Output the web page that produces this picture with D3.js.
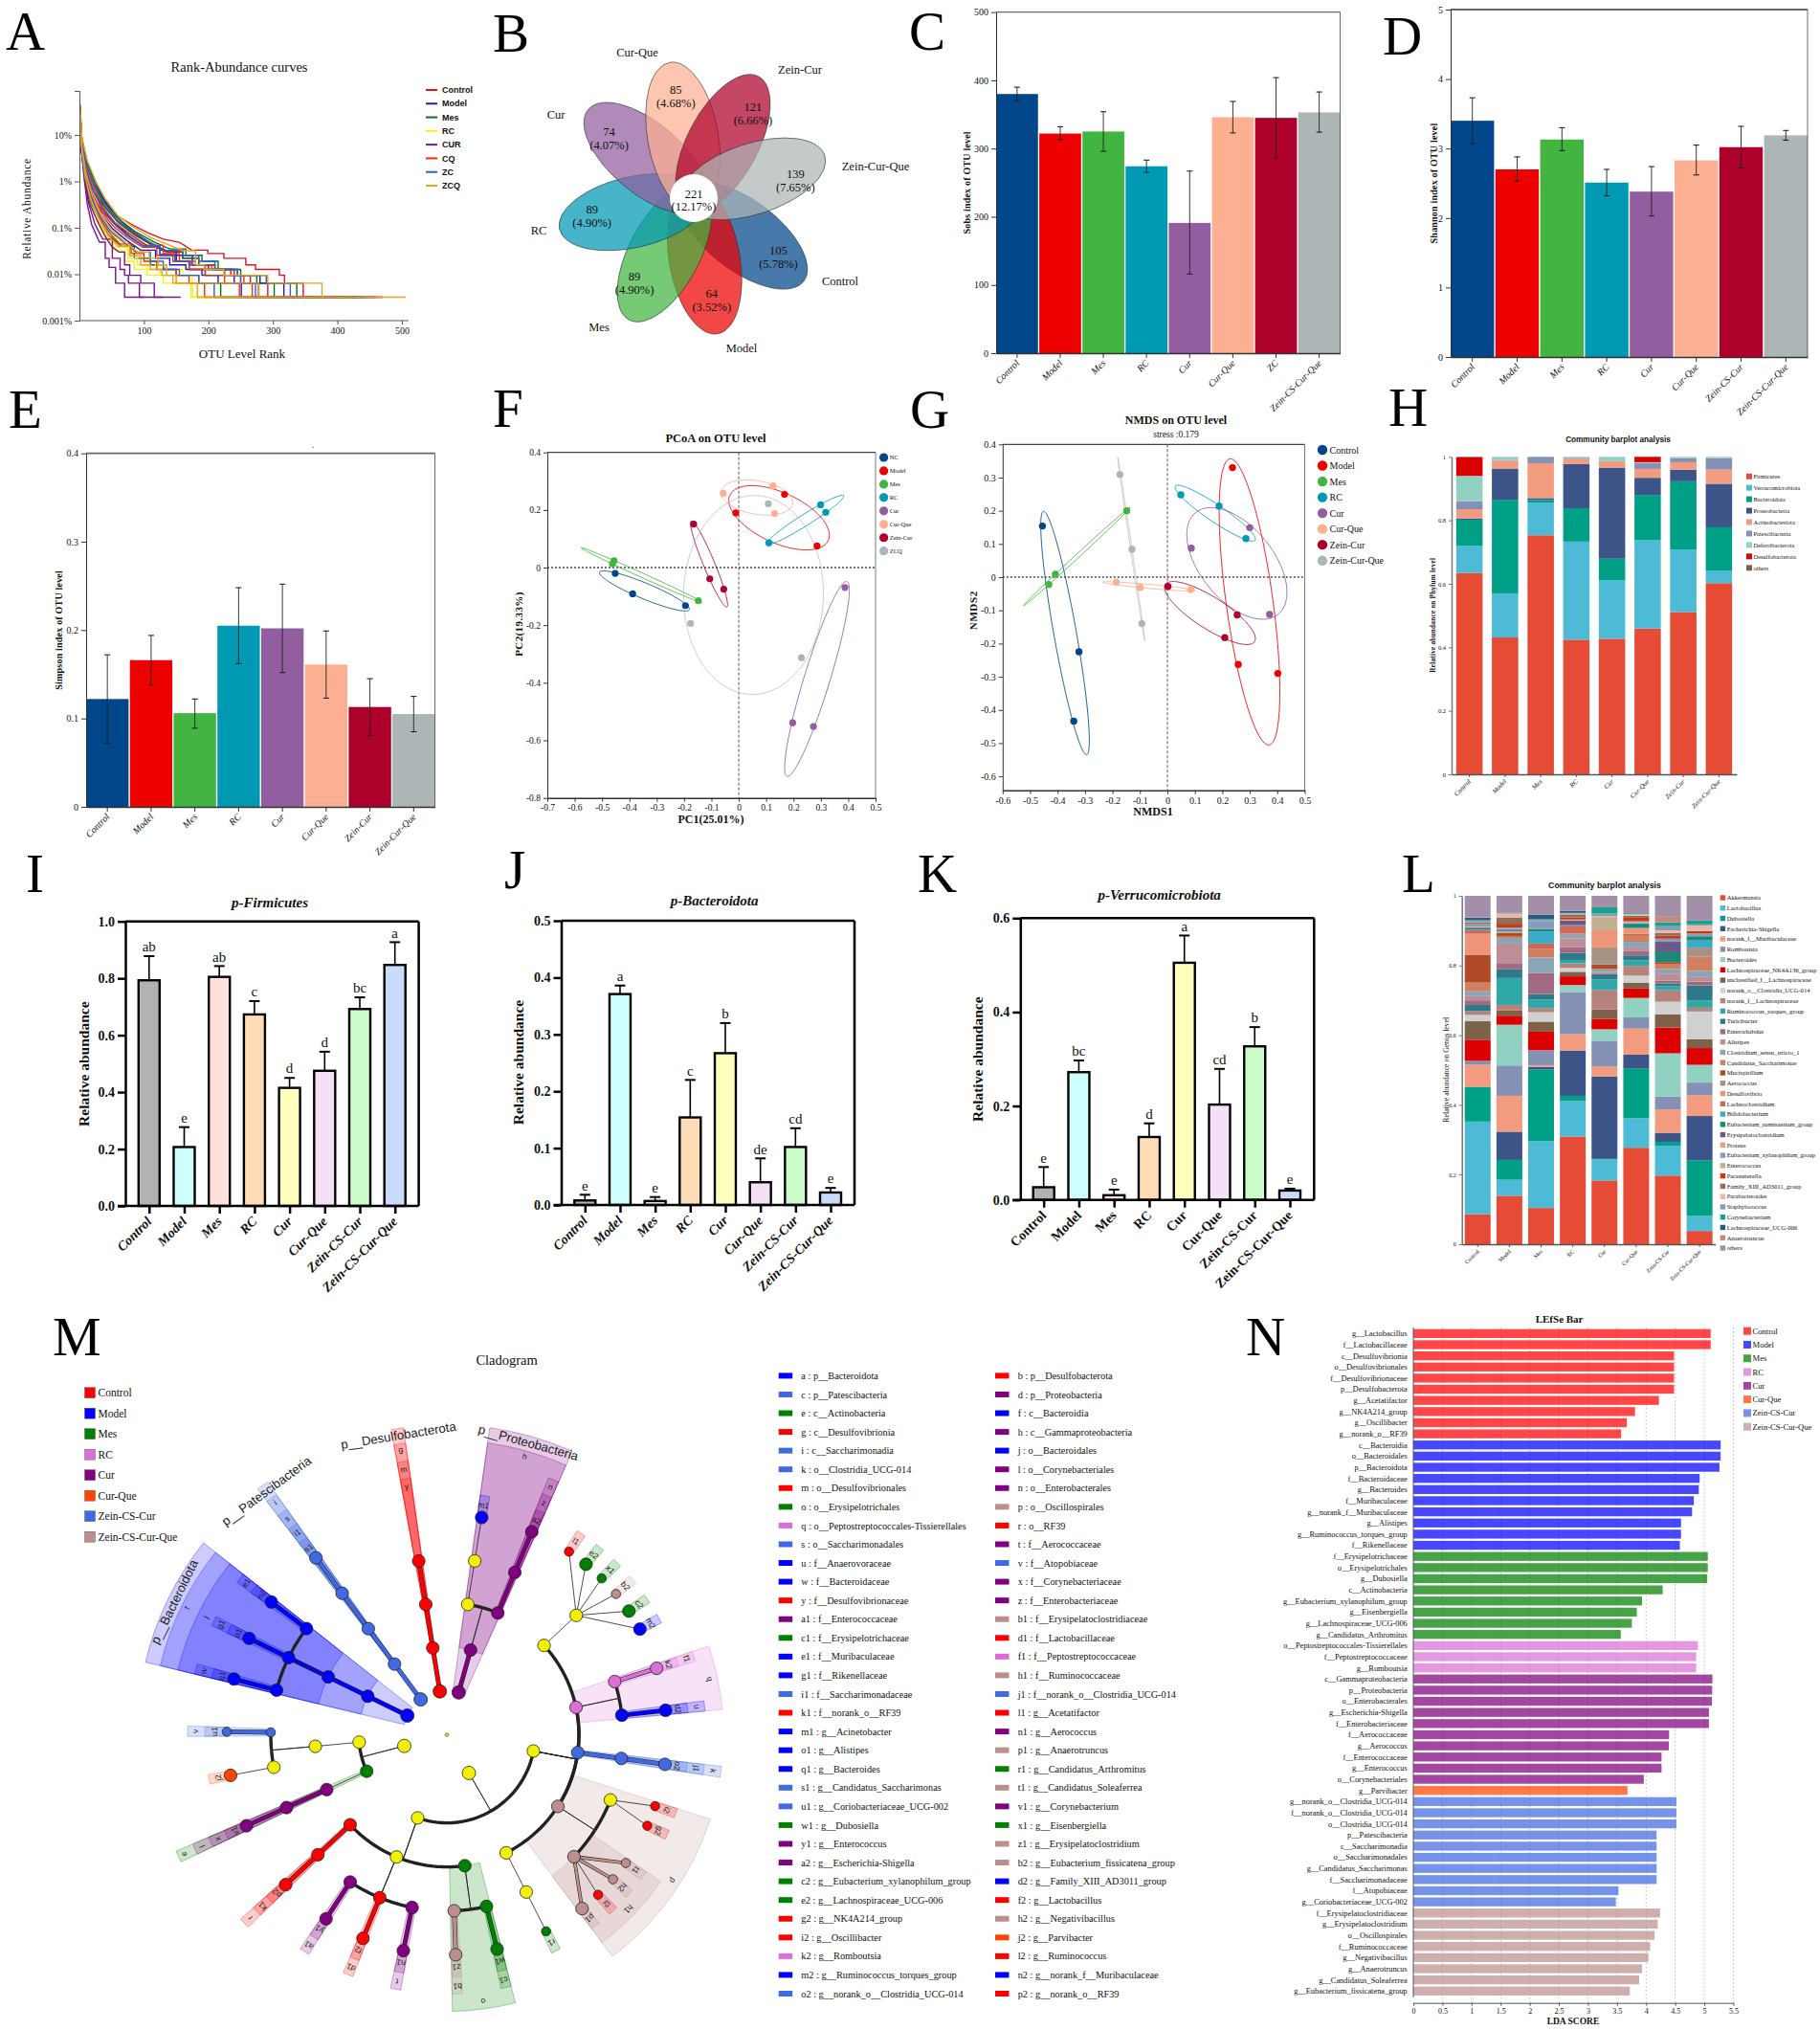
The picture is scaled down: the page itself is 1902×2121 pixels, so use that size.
<!DOCTYPE html>
<html><head><meta charset="utf-8">
<style>html,body{margin:0;padding:0;background:#fff}svg{display:block}</style>
<script src="https://cdn.jsdelivr.net/npm/d3@7/dist/d3.min.js"></script>
</head><body><svg id="fig" width="1902" height="2121"></svg>
<script>
// ===== DATA =====
const groupsShort = ['Control','Model','Mes','RC','Cur','Cur-Que','Zein-CS-Cur','Zein-CS-Cur-Que'];
const lancet = ['#00468b','#ed0000','#42b540','#0099b4','#925e9f','#fdaf91','#ad002a','#adb6b6'];
// A rank abundance: [rank, percent]
const rankGroups = ['Control','Model','Mes','RC','CUR','CQ','ZC','ZCQ'];
const rankColors = ['#e0141e','#1c1cb0','#0a6e1e','#f6f01e','#7a1688','#f0300e','#2f5fd2','#e8a31e'];
const rankControl = [
 [[1,45],[4,6.5],[12,2.5],[27,.84],[36,.41],[56,.19],[81,.117],[105,.079],[130,.057],[155,.049],[174,.033],[199,.028],[224,.022],[258,.0159],[273,.0127],[310,.0095],[318,.0064],[347,.0032],[470,.0032]],
 [[1,30],[3,8],[10,1.6],[22,.6],[40,.27],[60,.14],[85,.075],[110,.045],[135,.03],[160,.022],[185,.0159],[210,.0127],[240,.0095],[265,.0064],[292,.0032],[470,.0032]],
 [[1,25],[3,6],[9,1.3],[20,.5],[36,.22],[55,.12],[80,.07],[105,.04],[125,.027],[150,.019],[170,.0159],[195,.0127],[225,.0095],[250,.0064],[278,.0032],[420,.0032]]];
const rankModel = [
 [[1,38],[3,9],[12,2.6],[25,.95],[38,.42],[58,.17],[80,.09],[105,.05],[130,.032],[150,.0255],[175,.0159],[200,.0127],[235,.0095],[280,.0064],[317,.0032],[460,.0032]],
 [[1,32],[3,7],[10,1.8],[22,.6],[36,.27],[55,.12],[78,.065],[100,.04],[125,.0255],[150,.019],[170,.0127],[195,.0095],[240,.0064],[278,.0032],[410,.0032]],
 [[1,28],[3,6],[9,1.4],[20,.45],[33,.2],[50,.1],[72,.055],[95,.033],[118,.022],[140,.0159],[165,.0127],[190,.0095],[215,.0064],[251,.0032],[360,.0032]]];
const rankMes = [
 [[1,35],[3,8],[11,2.1],[24,.75],[38,.3],[60,.13],[85,.07],[110,.045],[135,.032],[160,.022],[185,.0159],[210,.0127],[245,.0095],[275,.0064],[302,.0032],[430,.0032]],
 [[1,42],[3,10],[12,2.4],[26,.8],[40,.33],[62,.15],[88,.08],[115,.05],[140,.035],[165,.0255],[190,.019],[215,.0127],[250,.0095],[290,.0064],[337,.0032],[440,.0032]],
 [[1,20],[3,5],[8,1],[18,.35],[30,.16],[45,.07],[65,.04],[85,.022],[110,.0159],[130,.0127],[150,.0095],[185,.0064],[219,.0032],[320,.0032]]];
const rankRC = [
 [[1,30],[3,7],[9,1.2],[18,.4],[30,.15],[42,.07],[58,.038],[75,.022],[90,.0159],[105,.0127],[125,.0095],[150,.0064],[173,.0032],[290,.0032]],
 [[1,25],[3,6],[8,1],[16,.35],[27,.14],[40,.06],[55,.032],[70,.019],[85,.0127],[105,.0095],[130,.0064],[175,.0032],[270,.0032]],
 [[1,33],[3,7.5],[10,1.4],[20,.5],[32,.2],[46,.09],[62,.05],[80,.03],[100,.019],[118,.0159],[135,.0127],[160,.0095],[175,.0064],[183,.0032],[310,.0032]]];
const rankCUR = [
 [[1,28],[2,7],[8,1],[12,.33],[19,.117],[31,.049],[40,.022],[46,.014],[56,.0064],[70,.0032],[100,.0032]],
 [[1,32],[3,5],[9,.9],[14,.35],[24,.12],[36,.057],[51,.022],[63,.0127],[70,.0095],[76,.0064],[93,.0032],[130,.0032]],
 [[1,25],[3,4.5],[10,.8],[16,.33],[28,.14],[39,.07],[50,.04],[61,.03],[70,.0159],[78,.0095],[95,.0064],[116,.0032],[157,.0032]]];
const rankCQ = [
 [[1,26],[3,6],[9,1.3],[18,.45],[30,.18],[46,.08],[62,.045],[80,.028],[100,.019],[120,.0127],[150,.0095],[170,.0064],[194,.0032],[320,.0032]],
 [[1,30],[3,7],[10,1.6],[20,.55],[33,.23],[52,.11],[75,.06],[98,.038],[120,.0255],[145,.019],[170,.0127],[195,.0095],[225,.0064],[248,.0032],[380,.0032]],
 [[1,36],[3,8],[11,1.9],[23,.7],[36,.28],[55,.13],[80,.07],[105,.042],[130,.028],[155,.019],[180,.0159],[205,.0127],[235,.0095],[255,.0064],[268,.0032],[400,.0032]]];
const rankZC = [
 [[1,34],[3,8],[11,2.2],[24,.8],[38,.34],[58,.15],[84,.08],[108,.05],[135,.032],[160,.0255],[185,.019],[210,.0127],[245,.0095],[290,.0064],[327,.0032],[450,.0032]],
 [[1,30],[3,7],[10,1.7],[22,.6],[35,.26],[54,.12],[76,.065],[100,.04],[125,.0255],[148,.019],[172,.0159],[195,.0127],[225,.0095],[250,.0064],[273,.0032],[390,.0032]],
 [[1,24],[3,5.5],[9,1.2],[19,.42],[32,.18],[48,.085],[68,.05],[88,.03],[110,.019],[130,.0127],[155,.0095],[185,.0064],[209,.0032],[330,.0032]]];
const rankZCQ = [
 [[1,28],[3,6.5],[10,1.5],[20,.5],[33,.2],[50,.09],[70,.05],[90,.03],[108,.022],[122,.0159],[135,.0095],[145,.0064],[278,.0032],[420,.0032]],
 [[1,26],[3,6],[9,1.2],[18,.4],[30,.16],[44,.07],[60,.04],[78,.025],[95,.0159],[110,.0127],[128,.0095],[150,.0064],[183,.0032],[380,.0032]],
 [[1,40],[3,10],[12,2.8],[26,.95],[40,.42],[60,.18],[85,.1],[110,.062],[135,.045],[160,.032],[180,.0159],[194,.0127],[224,.0095],[292,.0064],[376,.0032],[506,.0032]]];
const rankAll = [rankControl,rankModel,rankMes,rankRC,rankCUR,rankCQ,rankZC,rankZCQ];
// B venn
const vennNames = ['Cur-Que','Zein-Cur','Zein-Cur-Que','Control','Model','Mes','RC','Cur'];
const vennCounts = [85,121,139,105,64,89,89,74];
const vennPercents = ['4.68%','6.66%','7.65%','5.78%','3.52%','4.90%','4.90%','4.07%'];
const vennColors = ['#fdaf91','#ad002a','#adb6b6','#00468b','#ed0000','#42b540','#0099b4','#925e9f'];
const vennPetalAngles = [-10,28,72,127,170,208,257,310];
const vennLabelX = [666,836,915,878,775,626,563,581];
const vennLabelY = [55,73,174,294,364,342,241,120];
// C D E
const sobsLabels = ['Control','Model','Mes','RC','Cur','Cur-Que','ZC','Zein-CS-Cur-Que'];
const sobsValues = [380,322,325,274,191,346,345,353];
const sobsLow = [370,313,296,265,116,323,286,324];
const sobsHigh = [390,332,354,283,267,369,404,383];
const shannonLabels = ['Control','Model','Mes','RC','Cur','Cur-Que','Zein-CS-Cur','Zein-CS-Cur-Que'];
const shannonValues = [3.4,2.7,3.13,2.51,2.38,2.83,3.02,3.19];
const shannonLow = [3.07,2.53,2.97,2.32,2.03,2.62,2.72,3.12];
const shannonHigh = [3.73,2.88,3.30,2.70,2.74,3.05,3.32,3.26];
const simpsonLabels = ['Control','Model','Mes','RC','Cur','Cur-Que','Zein-Cur','Zein-Cur-Que'];
const simpsonValues = [.122,.166,.106,.205,.202,.161,.113,.105];
const simpsonLow = [.072,.138,.089,.162,.152,.123,.081,.085];
const simpsonHigh = [.172,.194,.122,.248,.252,.199,.145,.125];
// F PCoA
const pcoaNames = ['NC','Model','Mes','RC','Cur','Cur-Que','Zein-Cur','ZCQ'];
const pcoaNC = [[-.452,-.02],[-.388,-.091],[-.195,-.132]];
const pcoaModel = [[.167,.254],[-.011,.19],[.286,.075]];
const pcoaMes = [[-.456,.024],[-.462,.013],[-.148,-.115]];
const pcoaRC = [[.299,.218],[.318,.192],[.11,.086]];
const pcoaCur = [[.388,-.069],[.197,-.539],[.273,-.552]];
const pcoaCQ = [[-.057,.258],[.125,.284],[.131,.188]];
const pcoaZC = [[-.165,.151],[-.106,-.039],[-.055,-.075]];
const pcoaZCQ = [[.108,.222],[-.176,-.194],[.229,-.313]];
// G NMDS
const nmdsNames = ['Control','Model','Mes','RC','Cur','Cur-Que','Zein-Cur','Zein-Cur-Que'];
const nmdsControl = [[-.455,.154],[-.322,-.225],[-.341,-.434]];
const nmdsModel = [[.237,.33],[.258,-.263],[.402,-.29]];
const nmdsMes = [[-.148,.2],[-.408,.009],[-.432,-.022]];
const nmdsRC = [[.049,.248],[.188,.214],[.286,.116]];
const nmdsCur = [[.3,.149],[.087,.0875],[.372,-.1125]];
const nmdsCQ = [[-.186,-.015],[-.099,-.031],[.085,-.0375]];
const nmdsZC = [[.002,-.028],[.254,-.114],[.209,-.182]];
const nmdsZCQ = [[-.173,.309],[-.129,.084],[-.093,-.14]];
// H phylum
const phylumNames = ['Firmicutes','Verrucomicrobiota','Bacteroidota','Proteobacteria','Actinobacteriota','Patescibacteria','Deferribacterota','Desulfobacterota','others'];
const phylumColors = ['#e64b35','#4dbbd5','#00a087','#3c5488','#f39b7f','#8491b4','#91d1c2','#dc0000','#7e6148'];
const phylumGroups = ['Control','Model','Mes','RC','Cur','Cur-Que','Zein-Cur','Zein-Cur-Que'];
const phylumControl = [.634,.086,.082,.004,.029,.025,.08,.058,.002];
const phylumModel = [.431,.139,.295,.098,.025,.002,.01,0,0];
const phylumMes = [.753,.103,.008,.006,.11,.02,0,0,0];
const phylumRC = [.424,.309,.105,.139,.017,.003,.003,0,0];
const phylumCur = [.427,.185,.067,.287,.02,.001,.013,0,0];
const phylumCQ = [.459,.278,.143,.054,.028,.019,.002,.017,0];
const phylumZC = [.511,.197,.215,.036,.024,.013,.004,0,0];
const phylumZCQ = [.602,.04,.136,.137,.045,.036,.004,0,0];
// I J K
const firmValues = [.793,.207,.805,.673,.415,.475,.692,.847];
const firmTop = [.878,.277,.843,.72,.45,.542,.733,.927];
const firmLetters = ['ab','e','ab','c','d','d','bc','a'];
const bactValues = [.008,.371,.007,.154,.267,.04,.102,.022];
const bactTop = [.018,.386,.014,.22,.32,.082,.135,.03];
const bactLetters = ['e','a','e','c','b','de','cd','e'];
const verrValues = [.027,.272,.01,.134,.505,.203,.327,.02];
const verrTop = [.07,.297,.022,.163,.563,.279,.368,.024];
const verrLetters = ['e','bc','e','d','a','cd','b','e'];
const pastel = ['#b2b2b2','#ceffff','#ffe0da','#ffdcb8','#ffffbe','#f6e0f8','#ccfccc','#c8dcfa'];
// L genus
const genusNames = ['Akkermansia','Lactobacillus','Dubosiella','Escherichia-Shigella','norank_f__Muribaculaceae','Romboutsia','Bacteroides','Lachnospiraceae_NK4A136_group','unclassified_f__Lachnospiraceae','norank_o__Clostridia_UCG-014','norank_f__Lachnospiraceae','Ruminococcus_torques_group','Turicibacter','Enterorhabdus','Alistipes','Clostridium_sensu_stricto_1','Candidatus_Saccharimonas','Mucispirillum','Aerococcus','Desulfovibrio','Lachnoclostridium','Bifidobacterium','Eubacterium_ruminantium_group','Erysipelatoclostridium','Proteus','Eubacterium_xylanophilum_group','Enterococcus','Parasutterella','Family_XIII_AD3011_group','Parabacteroides','Staphylococcus','Corynebacterium','Lachnospiraceae_UCG-006','Anaerotruncus','others'];
const genusColors = ['#e64b35','#4dbbd5','#00a087','#3c5488','#f39b7f','#8491b4','#91d1c2','#dc0000','#7e6148','#d0d0d0','#b8827c','#2fa8a8','#2e7a8c','#a06a82','#bc8f98','#8aa5b5','#d08060','#b04a2a','#a89282','#ee9478','#d06858','#3aaac8','#1a8a78','#6a5a88','#ef9a84','#8a9cbc','#c0b090','#c8391a','#8f6f5a','#e8b8a8','#8a9cb0','#1aa090','#2a5a80','#c88878','#a48fa8'];
const genusGroups = ['Control','Model','Mes','RC','Cur','Cur-Que','Zein-CS-Cur','Zein-CS-Cur-Que'];
const genusControl = [.086,.266,.099,.001,.063,.010,.001,.061,.053,.018,.011,0,.018,.013,.012,.014,.025,.08,0,.06,.01,.002,.005,.002,.002,.006,0,.001,.004,.001,.005,.002,.006,.001,.062];
const genusModel = [.139,.046,.057,.081,.103,.087,.117,.026,.015,0,.016,.077,.025,.016,.058,.016,.004,.01,.001,.001,.002,.002,.003,.002,.001,.004,0,.011,.018,.012,0,0,.001,0,.049];
const genusMes = [.104,.192,.206,.007,.005,.043,0,.053,.029,.027,.012,.024,.016,.06,0,.045,.024,0,0,0,.016,.035,.007,0,0,.023,0,0,0,0,.003,.002,.013,0,.054];
const genusRC = [.309,.102,.015,.13,.047,.121,.02,.025,.013,.011,.013,.01,.02,.016,.026,.011,0,.002,.001,0,.022,0,.002,.013,.002,0,.001,.006,.009,.002,.002,0,.006,0,.043];
const genusCur = [.183,.062,0,.236,.029,.074,.033,.03,.027,0,.056,.03,.015,0,.007,.008,0,.013,.049,.049,0,0,0,0,0,0,.038,0,0,.002,.008,.018,0,0,.033];
const genusCQ = [.277,.085,.143,.039,.075,.032,.056,.027,.017,.02,.028,.016,.014,.012,.011,.016,.02,.003,0,.016,0,.001,.012,.001,.001,.003,.002,.012,.004,.004,0,.003,0,0,.05];
const genusZC = [.197,.086,.011,.026,.067,.037,.124,.074,.038,.036,.033,.012,.007,.009,.02,.013,.015,.005,0,0,0,0,.028,.03,0,.009,0,.009,.007,.008,.012,.011,0,.016,.06];
const genusZCQ = [.038,.044,.159,.127,.06,.036,.051,.048,.025,.08,.011,.021,.043,.011,.013,.018,.038,.002,.027,0,0,.02,.012,0,0,.008,0,.007,0,.016,.003,.011,0,0,.071];
// M cladogram
const lefseGroups = ['Control','Model','Mes','RC','Cur','Cur-Que','Zein-CS-Cur','Zein-CS-Cur-Que'];
const lefseColors = ['#ff0000','#0000ff','#008000','#da70d6','#800080','#ff4500','#4169e1','#bc8f8f'];
const taxaLeft = [['a','p__Bacteroidota',1],['c','p__Patescibacteria',6],['e','c__Actinobacteria',2],['g','c__Desulfovibrionia',0],['i','c__Saccharimonadia',6],['k','o__Clostridia_UCG-014',6],['m','o__Desulfovibrionales',0],['o','o__Erysipelotrichales',2],['q','o__Peptostreptococcales-Tissierellales',3],['s','o__Saccharimonadales',6],['u','f__Anaerovoraceae',1],['w','f__Bacteroidaceae',1],['y','f__Desulfovibrionaceae',0],['a1','f__Enterococcaceae',4],['c1','f__Erysipelotrichaceae',2],['e1','f__Muribaculaceae',1],['g1','f__Rikenellaceae',1],['i1','f__Saccharimonadaceae',6],['k1','f__norank_o__RF39',0],['m1','g__Acinetobacter',1],['o1','g__Alistipes',1],['q1','g__Bacteroides',1],['s1','g__Candidatus_Saccharimonas',6],['u1','g__Coriobacteriaceae_UCG-002',6],['w1','g__Dubosiella',2],['y1','g__Enterococcus',4],['a2','g__Escherichia-Shigella',4],['c2','g__Eubacterium_xylanophilum_group',2],['e2','g__Lachnospiraceae_UCG-006',2],['g2','g__NK4A214_group',0],['i2','g__Oscillibacter',0],['k2','g__Romboutsia',3],['m2','g__Ruminococcus_torques_group',1],['o2','g__norank_o__Clostridia_UCG-014',6]];
const taxaRight = [['b','p__Desulfobacterota',0],['d','p__Proteobacteria',4],['f','c__Bacteroidia',1],['h','c__Gammaproteobacteria',4],['j','o__Bacteroidales',1],['l','o__Corynebacteriales',4],['n','o__Enterobacterales',4],['p','o__Oscillospirales',7],['r','o__RF39',0],['t','f__Aerococcaceae',4],['v','f__Atopobiaceae',6],['x','f__Corynebacteriaceae',4],['z','f__Enterobacteriaceae',4],['b1','f__Erysipelatoclostridiaceae',7],['d1','f__Lactobacillaceae',0],['f1','f__Peptostreptococcaceae',3],['h1','f__Ruminococcaceae',7],['j1','f__norank_o__Clostridia_UCG-014',6],['l1','g__Acetatifactor',0],['n1','g__Aerococcus',4],['p1','g__Anaerotruncus',7],['r1','g__Candidatus_Arthromitus',2],['t1','g__Candidatus_Soleaferrea',7],['v1','g__Corynebacterium',4],['x1','g__Eisenbergiella',2],['z1','g__Erysipelatoclostridium',7],['b2','g__Eubacterium_fissicatena_group',7],['d2','g__Family_XIII_AD3011_group',1],['f2','g__Lactobacillus',0],['h2','g__Negativibacillus',7],['j2','g__Parvibacter',5],['l2','g__Ruminococcus',0],['n2','g__norank_f__Muribaculaceae',1],['p2','g__norank_o__RF39',0]];
// id, parent, clockwise angle in degrees
const cladoNodes = [
 ['a',null,-64],['f','a',-64],['j','f',-64],['w','j',-75.3],['g1','j',-64],['e1','j',-52.9],['q1','w',-75.3],['o1','g1',-64],['n2','e1',-52.9],
 ['c',null,-36.5],['i','c',-36.5],['s','i',-36.5],['i1','s',-36.5],['s1','i1',-36.5],
 ['b',null,-9.2],['g','b',-9.2],['m','g',-9.2],['y','m',-9.2],
 ['d',null,15.6],['h','d',15.6],['n','h',22.7],['_pr3','h',9.1],['z','n',22.7],['_pr4','_pr3',9.1],['a2','z',22.7],['m1','_pr4',9.1],
 ['_fir',null,150],['_clo','_fir',100.6],['_bac','_fir',199.4],
 ['_lac','_clo',47.4],['q','_clo',78],['k','_clo',97.7],['p','_clo',122.8],['_o5','_clo',153.3],
 ['_lf','_lac',47.3],['l1','_lf',33.7],['e2','_lf',39.2],['x1','_lf',44.7],['b2','_lf',50.2],['c2','_lf',55.8],['m2','_lf',61.3],
 ['f1','q',72.4],['u','q',83.6],['k2','f1',72.4],['d2','u',83.6],
 ['j1','k',97.7],['o2','j1',97.7],
 ['_osc','p',111.7],['h1','p',133.8],['i2','_osc',108.9],['g2','_osc',114.4],['t1','h1',125.6],['h2','h1',131],['l2','h1',136.6],['p1','h1',142.1],
 ['_f5','_o5',153.2],['r1','_f5',153.2],
 ['o','_bac',172.2],['b1','o',177.6],['c1','o',167],['z1','b1',177.7],['w1','c1',166.8],
 ['_lo','_bac',202.4],['a1','_lo',213.3],['d1','_lo',202.4],['t','_lo',191.4],['y1','a1',213.3],['f2','d1',202.4],['n1','t',191.4],
 ['r','_bac',227.1],['k1','r',227.1],['p2','k1',227.1],
 ['_act',null,255.4],['e','_act',245.6],['_cor','_act',265.2],
 ['l','e',245.5],['x','l',245.6],['v1','x',245.6],
 ['_co3','_cor',265],['v','_co3',270.8],['_co4','_co3',259.4],['u1','v',270.8],['j2','_co4',259.4]];
const cladoSmall = ['l1','x1','b2','i2','g2','t1','h2','l2','v','u1','r1'];
const phylumLabels = ['a','c','b','d'];
// N LEfSe
const lefseBarNames = ['g__Lactobacillus','f__Lactobacillaceae','c__Desulfovibrionia','o__Desulfovibrionales','f__Desulfovibrionaceae','p__Desulfobacterota','g__Acetatifactor','g__NK4A214_group','g__Oscillibacter','g__norank_o__RF39',
 'c__Bacteroidia','o__Bacteroidales','p__Bacteroidota','f__Bacteroidaceae','g__Bacteroides','f__Muribaculaceae','g__norank_f__Muribaculaceae','g__Alistipes','g__Ruminococcus_torques_group','f__Rikenellaceae',
 'f__Erysipelotrichaceae','o__Erysipelotrichales','g__Dubosiella','c__Actinobacteria','g__Eubacterium_xylanophilum_group','g__Eisenbergiella','g__Lachnospiraceae_UCG-006','g__Candidatus_Arthromitus',
 'o__Peptostreptococcales-Tissierellales','f__Peptostreptococcaceae','g__Romboutsia',
 'c__Gammaproteobacteria','p__Proteobacteria','o__Enterobacterales','g__Escherichia-Shigella','f__Enterobacteriaceae','f__Aerococcaceae','g__Aerococcus','f__Enterococcaceae','g__Enterococcus','o__Corynebacteriales',
 'g__Parvibacter',
 'g__norank_o__Clostridia_UCG-014','f__norank_o__Clostridia_UCG-014','o__Clostridia_UCG-014','p__Patescibacteria','c__Saccharimonadia','o__Saccharimonadales','g__Candidatus_Saccharimonas','f__Saccharimonadaceae','f__Atopobiaceae','g__Coriobacteriaceae_UCG-002',
 'f__Erysipelatoclostridiaceae','g__Erysipelatoclostridium','o__Oscillospirales','f__Ruminococcaceae','g__Negativibacillus','g__Anaerotruncus','g__Candidatus_Soleaferrea','g__Eubacterium_fissicatena_group'];
const lefseBarValues = [5.11,5.11,4.48,4.48,4.48,4.48,4.22,3.81,3.67,3.57,
 5.28,5.28,5.26,4.92,4.905,4.82,4.79,4.6,4.6,4.58,
 5.06,5.06,5.05,4.285,3.93,3.84,3.755,3.565,
 4.89,4.86,4.86,
 5.14,5.135,5.13,5.08,5.08,4.395,4.39,4.265,4.265,3.96,
 3.68,
 4.52,4.52,4.52,4.18,4.18,4.18,4.18,4.18,3.525,3.48,
 4.24,4.2,4.145,4.07,4.04,3.93,3.88,3.72];
const lefseBarGroups = [0,0,0,0,0,0,0,0,0,0,1,1,1,1,1,1,1,1,1,1,2,2,2,2,2,2,2,2,3,3,3,4,4,4,4,4,4,4,4,4,4,5,6,6,6,6,6,6,6,6,6,6,7,7,7,7,7,7,7,7];
const ldaTicks = [0,.5,1,1.5,2,2.5,3,3.5,4,4.5,5,5.5];

// ===== HELPERS =====
const SERIF="'Liberation Serif',serif", SANS="'Liberation Sans',sans-serif";
const svg=d3.select('#fig');
svg.append('rect').attr('width',1902).attr('height',2121).attr('fill','#fff');
function T(p,x,y,s,o={}){
 const t=p.append('text').attr('x',x).attr('y',y).attr('font-family',o.f||SERIF).attr('font-size',o.s||10)
  .attr('font-weight',o.w||'normal').attr('font-style',o.i?'italic':'normal').attr('text-anchor',o.a||'middle')
  .attr('fill',o.c||'#111').text(s);
 if(!o.base)t.attr('dy','.35em');
 if(o.ls)t.attr('letter-spacing',o.ls);
 if(o.r!=null)t.attr('transform',`rotate(${o.r} ${x} ${y})`);
 return t;
}
function axisDraw(gen,tx,ty,o={}){
 const g=svg.append('g').attr('transform',`translate(${tx},${ty})`).call(gen);
 g.select('.domain').attr('stroke',o.dc||o.c||'#333').attr('stroke-width',o.dw||o.sw||1);
 g.selectAll('.tick line').attr('stroke',o.c||'#333').attr('stroke-width',o.sw||1);
 g.selectAll('.tick text').attr('font-family',o.f||SERIF).attr('font-size',o.s||10).attr('font-weight',o.w||'normal')
  .attr('font-style',o.i?'italic':'normal').attr('fill','#111');
 return g;
}
function rotTicks(g,dx,dy){
 g.selectAll('.tick text').attr('text-anchor','end').attr('dy',0).attr('x',0).attr('y',0)
  .attr('transform',`translate(${dx},${dy}) rotate(-45)`);
}
function hline(x1,y1,x2,y2,c,w,dash){
 const l=svg.append('line').attr('x1',x1).attr('y1',y1).attr('x2',x2).attr('y2',y2).attr('stroke',c).attr('stroke-width',w);
 if(dash)l.attr('stroke-dasharray',dash);return l;
}

// panel letters
[['A',6,52],['B',515,54],['C',950,52],['D',1445,57],['E',9,447],['F',515,446],['G',951,447],['H',1451,445],['I',27,932],['J',527,928],['K',959,932],['L',1465,932],['M',55,1416],['N',1302,1416]]
 .forEach(d=>T(svg,d[1],d[2],d[0],{s:57,a:'start',base:true,c:'#000'}));

// ===== A =====
(function(){
 const x=d3.scaleLinear().domain([1,500]).range([83.7,420]);
 const y=d3.scaleLog().domain([.001,89]).range([335,95]);
 const line=d3.line().x(d=>x(d[0])).y(d=>y(d[1]));
 // the body of each curve is dense enough to read as a line, the sparse tail reads as steps
 const shape=s=>s.flatMap((p,i)=>(i&&p[1]<.03)?[[p[0],s[i-1][1]],p]:[p]);
 rankAll.forEach((set,gi)=>set.forEach(s=>svg.append('path').attr('d',line(shape(s))).attr('fill','none').attr('stroke',rankColors[gi]).attr('stroke-width',1.4)));
 const gy=axisDraw(d3.axisLeft(y).tickValues([10,1,.1,.01,.001]).tickFormat(d=>d+'%').tickSizeOuter(0).tickSize(5),83,0,{c:'#555',s:10});
 const gx=axisDraw(d3.axisBottom(x).tickValues([100,200,300,400,500]).tickSizeOuter(0).tickSize(4),0,335,{c:'#555',s:10});
 gx.select('.domain').attr('d','M83,0H427');
 T(svg,250,70,'Rank-Abundance curves',{s:14.5});
 T(svg,253,369,'OTU Level Rank',{s:13});
 T(svg,28,218,'Relative Abundance',{s:11.5,r:-90,ls:.7});
 rankGroups.forEach((g,i)=>{const yy=d3.scaleLinear().domain([0,7]).range([94,194])(i);
  hline(445,yy,457,yy,rankColors[i],2);
  T(svg,462,yy,g,{f:SANS,w:'bold',s:9,a:'start'});});
})();

// ===== B =====
(function(){
 const textAng=d3.scaleLinear().domain([0,8]).range([-10,350]);
 const g=svg.append('g').attr('transform','translate(725,207)');
 const order=[3,4,5,6,7,0,1,2];
 order.forEach(i=>g.append('ellipse').attr('cx',0).attr('cy',-65).attr('rx',37).attr('ry',79)
  .attr('transform',`rotate(${vennPetalAngles[i]})`).attr('fill',vennColors[i]).attr('fill-opacity',.72).attr('stroke','#333').attr('stroke-width',.6));
 g.append('circle').attr('r',25).attr('fill','#fff');
 T(g,0,-4,'221',{s:12.5}); T(g,0,9,'(12.17%)',{s:12.5});
 vennNames.forEach((n,i)=>{
  const p=d3.pointRadial(textAng(i)*Math.PI/180,108);
  T(g,p[0],p[1]-7,String(vennCounts[i]),{s:12.5});
  T(g,p[0],p[1]+7,'('+vennPercents[i]+')',{s:12.5});
  T(svg,vennLabelX[i],vennLabelY[i],n,{s:12.5});
 });
})();

// ===== C D E =====
function barPanel(c){
 const x=d3.scaleBand().domain(c.labels).range([c.x0,c.x1]).paddingInner(.03);
 const y=d3.scaleLinear().domain([0,c.max]).range([c.y1,c.y0]);
 c.vals.forEach((v,i)=>{svg.append('rect').attr('x',x(c.labels[i])).attr('y',y(v)).attr('width',x.bandwidth()).attr('height',y(0)-y(v)).attr('fill',lancet[i]);});
 c.vals.forEach((v,i)=>{const cx=x(c.labels[i])+x.bandwidth()/2;
  hline(cx,y(c.low[i]),cx,y(c.high[i]),'#222',.9);
  hline(cx-3,y(c.low[i]),cx+3,y(c.low[i]),'#222',1.1);
  hline(cx-3,y(c.high[i]),cx+3,y(c.high[i]),'#222',1.1);});
 hline(c.x0,c.y0,c.x1,c.y0,c.topc,c.topw);
 hline(c.x1,c.y0,c.x1,c.y1,'#444',.8);
 axisDraw(d3.axisLeft(y).tickValues(c.ticks).tickFormat(d=>String(d)).tickSize(5).tickSizeOuter(0),c.x0,0,{c:'#333',s:10,sw:1});
 const g=axisDraw(d3.axisBottom(x).tickSize(5).tickSizeOuter(0),0,c.y1,{c:'#333',s:10,i:true,dw:1.6});
 rotTicks(g,3,11);
 T(svg,c.lx,(c.y0+c.y1)/2+(c.ldy||0),c.ylabel,{s:10,w:'bold',r:-90,ls:.2});
}
barPanel({labels:sobsLabels,vals:sobsValues,low:sobsLow,high:sobsHigh,max:500,ticks:[0,100,200,300,400,500],x0:1041,x1:1400.5,y0:12.7,y1:369,ylabel:'Sobs index of OTU level',lx:1011,topc:'#444',topw:1});
barPanel({labels:shannonLabels,vals:shannonValues,low:shannonLow,high:shannonHigh,max:5,ticks:[0,1,2,3,4,5],x0:1516,x1:1889,y0:10,y1:373,ylabel:'Shannon index of OTU level',lx:1498,topc:'#666',topw:1.8});
barPanel({labels:simpsonLabels,vals:simpsonValues,low:simpsonLow,high:simpsonHigh,max:.4,ticks:[0,.1,.2,.3,.4],x0:90,x1:454.5,y0:473.7,y1:843,ylabel:'Simpson index of OTU level',lx:62,topc:'#666',topw:1.8});
T(svg,327,464,'.',{s:10});

// ===== F G =====
function ellipsePath(pts,x,y,k){
 const mx=d3.mean(pts,d=>d[0]),my=d3.mean(pts,d=>d[1]),n=pts.length-1;
 const sxx=d3.sum(pts,d=>(d[0]-mx)**2)/n,syy=d3.sum(pts,d=>(d[1]-my)**2)/n,sxy=d3.sum(pts,d=>(d[0]-mx)*(d[1]-my))/n;
 const th=.5*Math.atan2(2*sxy,sxx-syy),t=(sxx+syy)/2,dd=Math.sqrt(((sxx-syy)/2)**2+sxy*sxy);
 const a=Math.sqrt(t+dd)*k,b=Math.sqrt(Math.max(t-dd,1e-7))*k;
 const ring=d3.range(0,2*Math.PI+.01,.04).map(u=>[mx+a*Math.cos(u)*Math.cos(th)-b*Math.sin(u)*Math.sin(th),my+a*Math.cos(u)*Math.sin(th)+b*Math.sin(u)*Math.cos(th)]);
 return d3.line().x(d=>x(d[0])).y(d=>y(d[1]))(ring);
}
function ordPanel(c){
 const x=d3.scaleLinear().domain(c.xd).range([c.x0,c.x1]);
 const y=d3.scaleLinear().domain(c.yd).range([c.y1,c.y0]);
 hline(c.x0,c.y0,c.x1,c.y0,'#444',1.2);
 hline(c.x1,c.y0,c.x1,c.y1,'#555',.8);
 hline(c.x0,y(0),c.x1,y(0),'#444',1.6,'2 2');
 hline(x(0),c.y0,x(0),c.y1,'#444',.9,'3 2');
 c.sets.forEach((s,i)=>{svg.append('path').attr('d',ellipsePath(s,x,y,1.23)).attr('fill','none').attr('stroke',lancet[i]).attr('stroke-width',1).attr('stroke-opacity',i==7?.65:.85);});
 c.sets.forEach((s,i)=>s.forEach(p=>svg.append('circle').attr('cx',x(p[0])).attr('cy',y(p[1])).attr('r',c.r).attr('fill',lancet[i])));
 axisDraw(d3.axisLeft(y).tickValues(c.yt).tickFormat(d=>String(d)).tickSize(4).tickSizeOuter(0),c.x0,0,{c:'#333',s:c.ts});
 axisDraw(d3.axisBottom(x).tickValues(c.xt).tickFormat(d=>String(d)).tickSize(4).tickSizeOuter(0),0,c.y1,{c:'#333',s:c.ts,dw:1.6});
}
ordPanel({xd:[-.7,.5],yd:[-.8,.4],x0:572,x1:915,y0:472.7,y1:833.7,r:3.6,ts:9.5,
 sets:[pcoaNC,pcoaModel,pcoaMes,pcoaRC,pcoaCur,pcoaCQ,pcoaZC,pcoaZCQ],
 xt:[-.7,-.6,-.5,-.4,-.3,-.2,-.1,0,.1,.2,.3,.4,.5],yt:[.4,.2,0,-.2,-.4,-.6,-.8]});
T(svg,748,458,'PCoA on OTU level',{s:12.5,w:'bold'});
T(svg,743,856,'PC1(25.01%)',{s:12,w:'bold'});
T(svg,542,652,'PC2(19.33%)',{s:11,w:'bold',r:-90,ls:.4});
pcoaNames.forEach((n,i)=>{const yy=d3.scaleLinear().domain([0,7]).range([478,575.7])(i);
 svg.append('circle').attr('cx',923.6).attr('cy',yy).attr('r',4.6).attr('fill',lancet[i]);
 T(svg,929.7,yy,n,{s:6.5,a:'start'});});

ordPanel({xd:[-.6,.5],yd:[-.642,.4],x0:1047.8,x1:1363.5,y0:464.3,y1:825.7,r:3.7,ts:10,
 sets:[nmdsControl,nmdsModel,nmdsMes,nmdsRC,nmdsCur,nmdsCQ,nmdsZC,nmdsZCQ],
 xt:[-.6,-.5,-.4,-.3,-.2,-.1,0,.1,.2,.3,.4,.5],yt:[.4,.3,.2,.1,0,-.1,-.2,-.3,-.4,-.5,-.6]});
T(svg,1229,438.7,'NMDS on OTU level',{s:12,w:'bold'});
T(svg,1229,454,'stress :0.179',{s:9.5});
T(svg,1205,848,'NMDS1',{s:12,w:'bold'});
T(svg,1017,637.7,'NMDS2',{s:11,w:'bold',r:-90,ls:.6});
nmdsNames.forEach((n,i)=>{const yy=d3.scaleLinear().domain([0,7]).range([470,585.7])(i);
 svg.append('circle').attr('cx',1382).attr('cy',yy).attr('r',5.2).attr('fill',lancet[i]);
 T(svg,1389.6,yy,n,{s:10,a:'start'});});

// ===== H L =====
function stackPanel(c){
 const x=d3.scaleBand().domain(c.groups).range([c.x0,c.x1]).paddingInner(c.pad).paddingOuter(c.pad/2);
 const y=d3.scaleLinear().domain([0,1]).range([c.y1,c.y0]);
 const series=d3.stack().keys(d3.range(c.colors.length)).value((d,k)=>d[k])(c.rows);
 series.forEach((s,k)=>s.forEach((d,i)=>{
  if(d[1]-d[0]<=0)return;
  svg.append('rect').attr('x',x(c.groups[i])).attr('y',y(d[1])).attr('width',x.bandwidth()).attr('height',y(d[0])-y(d[1])).attr('fill',c.colors[k]);
 }));
 axisDraw(d3.axisLeft(y).tickValues([0,.2,.4,.6,.8,1]).tickFormat(d=>String(d)).tickSize(3).tickSizeOuter(0),c.x0,0,{c:'#777',s:c.ts,dw:1.5});
 const g=axisDraw(d3.axisBottom(x).tickSize(3).tickSizeOuter(0),0,c.y1,{c:'#555',s:c.xs,dw:1.4,i:c.xi});
 rotTicks(g,2,8);
}
stackPanel({groups:phylumGroups,colors:phylumColors,rows:[phylumControl,phylumModel,phylumMes,phylumRC,phylumCur,phylumCQ,phylumZC,phylumZCQ],x0:1517,x1:1815,y0:477.3,y1:809,pad:.26,ts:6.5,xs:7,xi:true});
T(svg,1691,458.7,'Community barplot analysis',{f:SANS,s:8.2,w:'bold'});
T(svg,1497.7,642.7,'Relative abundance on Phylum level',{s:7.2,w:'bold',r:-90,ls:.25});
phylumNames.forEach((n,i)=>{const yy=d3.scaleLinear().domain([0,8]).range([497.7,593.3])(i);
 svg.append('rect').attr('x',1825).attr('y',yy-3).attr('width',6).attr('height',6).attr('fill',phylumColors[i]);
 T(svg,1832.5,yy,n,{s:6.5,a:'start'});});

stackPanel({groups:genusGroups,colors:genusColors,rows:[genusControl,genusModel,genusMes,genusRC,genusCur,genusCQ,genusZC,genusZCQ],x0:1527.7,x1:1792.7,y0:936,y1:1300,pad:.185,ts:6,xs:6,xi:false});
T(svg,1677,924.7,'Community barplot analysis',{f:SANS,s:8.8,w:'bold'});
T(svg,1511,1117.7,'Relative abundance on Genus level',{s:7.8,r:-90});
genusNames.forEach((n,i)=>{const yy=d3.scaleLinear().domain([0,34]).range([938,1304])(i);
 svg.append('rect').attr('x',1797.7).attr('y',yy-2.7).attr('width',5.4).attr('height',5.4).attr('fill',genusColors[i]);
 T(svg,1804.7,yy,n,{s:6.6,a:'start'});});

// ===== I J K =====
function sigPanel(c){
 const x=d3.scalePoint().domain(groupsShort).range([c.c0,c.c1]);
 const y=d3.scaleLinear().domain([0,c.max]).range([c.y1,c.y0]);
 c.vals.forEach((v,i)=>{const cx=x(groupsShort[i]);
  hline(cx,y(v),cx,y(c.top[i]),'#000',1.6);
  hline(cx-5.5,y(c.top[i]),cx+5.5,y(c.top[i]),'#000',2);
  svg.append('rect').attr('x',cx-11).attr('y',y(v)).attr('width',22).attr('height',y(0)-y(v)).attr('fill',pastel[i]).attr('stroke','#000').attr('stroke-width',2.4);
  T(svg,cx,y(c.top[i])-10,c.letters[i],{s:15});
 });
 hline(c.x0,c.y0,c.x1,c.y0,'#000',2.5);
 hline(c.x1,c.y0,c.x1,c.y1,'#000',2.5);
 axisDraw(d3.axisLeft(y).tickValues(c.ticks).tickFormat(d3.format('.1f')).tickSize(8).tickSizeOuter(0),c.x0,0,{c:'#000',sw:2.5,s:14,w:'bold'});
 const g=axisDraw(d3.axisBottom(x).tickSize(8).tickSizeOuter(0),0,c.y1,{c:'#000',sw:2.5,s:14,w:'bold',i:c.italic});
 g.select('.domain').attr('d',`M${c.x0-8},0H${c.x1}`);
 rotTicks(g,3,17);
 T(svg,c.tx,c.ty,c.title,{s:15,w:'bold',i:true});
 T(svg,c.lx,c.ly,'Relative abundance',{s:15.5,w:'bold',r:-90});
}
sigPanel({vals:firmValues,top:firmTop,letters:firmLetters,max:1,ticks:[0,.2,.4,.6,.8,1],c0:155.8,c1:412.7,x0:131,x1:437.6,y0:962.7,y1:1260,title:'p-Firmicutes',tx:282,ty:942.7,lx:88,ly:1111.7,italic:true});
sigPanel({vals:bactValues,top:bactTop,letters:bactLetters,max:.5,ticks:[0,.1,.2,.3,.4,.5],c0:611.3,c1:868,x0:586.5,x1:893,y0:962,y1:1259,title:'p-Bacteroidota',tx:746.7,ty:941,lx:542,ly:1110,italic:true});
sigPanel({vals:verrValues,top:verrTop,letters:verrLetters,max:.6,ticks:[0,.2,.4,.6],c0:1090.7,c1:1348,x0:1066.3,x1:1373.3,y0:959.3,y1:1253.7,title:'p-Verrucomicrobiota',tx:1211.7,ty:935,lx:1021.7,ly:1106.7,italic:false});

// ===== M =====
(function(){
 const cx=467,cy=1812.6;
 const rad=d3.scaleLinear().domain([0,5]).range([0,230]);
 const outer=d3.scaleOrdinal().domain([1,2,3,4,5]).range([324,308,289,271,253]);
 const labelR=d3.scaleOrdinal().domain([2,3,4,5]).range([302,281,263,243]);
 const taxa=new Map([...taxaLeft,...taxaRight].map(d=>[d[0],d]));
 const nodes=new Map(cladoNodes.map(d=>[d[0],{id:d[0],parent:d[1],a:d[2],kids:[],group:taxa.has(d[0])?taxa.get(d[0])[2]:-1}]));
 nodes.forEach(n=>{if(n.parent)nodes.get(n.parent).kids.push(n);});
 const level=n=>n.parent?level(nodes.get(n.parent))+1:1;
 nodes.forEach(n=>n.level=level(n));
 const leaves=n=>n.kids.length?n.kids.flatMap(leaves):[n];
 const G=svg.append('g').attr('transform',`translate(${cx},${cy})`);
 const pos=(a,l)=>d3.pointRadial(a*Math.PI/180,rad(l));
 const color=n=>n.group<0?'#f0f000':lefseColors[n.group];
 // sectors
 const arc=d3.arc();
 [...nodes.values()].filter(n=>n.group>=0).sort((a,b)=>a.level-b.level).forEach(n=>{
  const L=leaves(n).map(d=>d.a);
  G.append('path').attr('d',arc({innerRadius:rad(n.level),outerRadius:outer(n.level),startAngle:(d3.min(L)-1.15)*Math.PI/180,endAngle:(d3.max(L)+1.15)*Math.PI/180}))
   .attr('fill',color(n)).attr('fill-opacity',.2).attr('stroke',color(n)).attr('stroke-opacity',.55).attr('stroke-width',.6);
 });
 // links
 const thin=(a,b)=>G.append('line').attr('x1',a[0]).attr('y1',a[1]).attr('x2',b[0]).attr('y2',b[1]).attr('stroke','#222').attr('stroke-width',.8);
 const band=(a,b,c,w)=>{
  G.append('line').attr('x1',a[0]).attr('y1',a[1]).attr('x2',b[0]).attr('y2',b[1]).attr('stroke','#222').attr('stroke-width',w+1.1);
  G.append('line').attr('x1',a[0]).attr('y1',a[1]).attr('x2',b[0]).attr('y2',b[1]).attr('stroke',c).attr('stroke-width',w);};
 nodes.forEach(n=>{
  if(!n.parent)return;
  const p=nodes.get(n.parent),same=n.group>=0&&n.group===p.group;
  const A=pos(p.a,p.level),B=pos(n.a,n.level);
  if(n.level===5||p.kids.length===1){
   if(same)band(A,B,lefseColors[n.group],(n.level===5&&p.kids.length>1)?2.6:3.8);
   else thin(A,B);
  }else{
   const C=pos(p.a,n.level);
   if(same&&Math.abs(n.a-p.a)<.5)band(A,C,lefseColors[n.group],3.8);else thin(A,C);
   const steps=d3.range(0,1.001,.05).map(t=>[(p.a+(n.a-p.a)*t)*Math.PI/180,rad(n.level)]);
   G.append('path').attr('d',d3.lineRadial()(steps)).attr('fill','none').attr('stroke','#222').attr('stroke-width',3.4);
  }
 });
 // nodes
 nodes.forEach(n=>{const p=pos(n.a,n.level);
  G.append('circle').attr('cx',p[0]).attr('cy',p[1]).attr('r',cladoSmall.includes(n.id)?4.8:(n.level===1?7:6.6)).attr('fill',color(n)).attr('stroke','#222').attr('stroke-width',.8);});
 G.append('circle').attr('r',2).attr('fill','#cccc30').attr('stroke','#555').attr('stroke-width',.5).attr('cx',0).attr('cy',0);
 // letters
 nodes.forEach(n=>{
  if(n.group<0||n.level===1)return;
  const p=d3.pointRadial(n.a*Math.PI/180,labelR(n.level));
  T(G,p[0],p[1],n.id,{f:SANS,s:8.5,c:'#222'}).attr('transform',`translate(${p[0]},${p[1]}) rotate(${n.a}) translate(${-p[0]},${-p[1]})`);
 });
 phylumLabels.forEach(id=>{const n=nodes.get(id),p=d3.pointRadial(n.a*Math.PI/180,317);
  T(G,p[0],p[1],taxa.get(id)[1],{f:SANS,s:13.2,c:'#222'}).attr('transform',`translate(${p[0]},${p[1]}) rotate(${n.a}) translate(${-p[0]},${-p[1]})`);});
 T(svg,529.6,1421,'Cladogram',{s:14.5});
 lefseGroups.forEach((g,i)=>{const yy=d3.scaleLinear().domain([0,7]).range([1455.2,1605.7])(i);
  svg.append('rect').attr('x',88.5).attr('y',yy-5.5).attr('width',11).attr('height',11).attr('fill',lefseColors[i]).attr('stroke','#555').attr('stroke-width',.4);
  T(svg,102.5,yy,g,{s:11.5,a:'start'});});
 const ry=d3.scaleLinear().domain([0,33]).range([1437.4,2083]);
 const col=(rows,sx,tx)=>rows.forEach((d,i)=>{
  svg.append('rect').attr('x',sx).attr('y',ry(i)-3).attr('width',14.5).attr('height',6).attr('fill',lefseColors[d[2]]);
  T(svg,tx,ry(i),d[0]+' : '+d[1],{s:10.3,a:'start'});});
 col(taxaLeft,813.7,837.3); col(taxaRight,1040,1063.7);
})();

// ===== N =====
(function(){
 const x=d3.scaleLinear().domain([0,5.5]).range([1477,1811.5]);
 const y=d3.scaleBand().domain(lefseBarNames).range([1387.5,2086.1]).paddingInner(.2).paddingOuter(.1);
 ldaTicks.forEach(t=>{if(t>0)hline(x(t),1387,x(t),2092,'#bbb',1,'1.5 2.5');});
 lefseBarNames.forEach((n,i)=>{
  svg.append('rect').attr('x',x(0)).attr('y',y(n)).attr('width',x(lefseBarValues[i])-x(0)).attr('height',y.bandwidth()).attr('fill',lefseColors[lefseBarGroups[i]]).attr('fill-opacity',.72);
  T(svg,1470.8,y(n)+y.bandwidth()/2,n,{s:8.4,a:'end'});
 });
 hline(x(0),1387,x(0),2087,'#555',1);
 axisDraw(d3.axisBottom(x).tickValues(ldaTicks).tickFormat(d=>String(d)).tickSize(3).tickSizeOuter(0),0,2092.7,{c:'#555',s:8});
 T(svg,1644,2111.7,'LDA SCORE',{s:9.5,w:'bold'});
 T(svg,1629.6,1378,'LEfSe Bar',{s:11,w:'bold'});
 lefseGroups.forEach((g,i)=>{const yy=d3.scaleLinear().domain([0,7]).range([1390.7,1490.7])(i);
  svg.append('rect').attr('x',1822).attr('y',yy-4).attr('width',8).attr('height',8).attr('fill',lefseColors[i]).attr('fill-opacity',.72);
  T(svg,1831.5,yy,g,{s:8.6,a:'start'});});
})();
</script></body></html>
